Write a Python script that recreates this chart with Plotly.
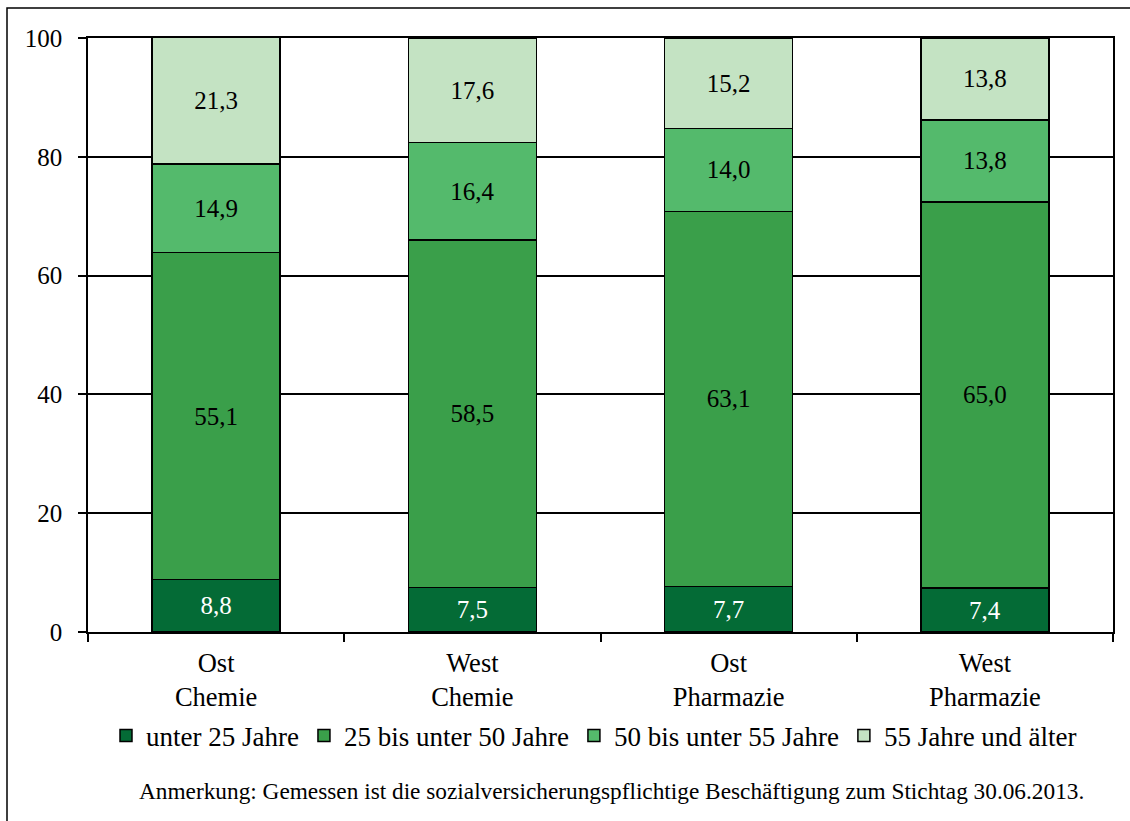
import plotly.graph_objects as go

categories = ["Ost<br>Chemie", "West<br>Chemie", "Ost<br>Pharmazie", "West<br>Pharmazie"]
u25 = [8.8, 7.5, 7.7, 7.4]
a25_50 = [55.1, 58.5, 63.1, 65.0]
a50_55 = [14.9, 16.4, 14.0, 13.8]
a55 = [21.3, 17.6, 15.2, 13.8]

series = [
    ("unter 25 Jahre", u25, "#046B36", "white"),
    ("25 bis unter 50 Jahre", a25_50, "#3A9F4A", "black"),
    ("50 bis unter 55 Jahre", a50_55, "#54BA6C", "black"),
    ("55 Jahre und älter", a55, "#C4E3C3", "black"),
]

font = "Liberation Serif"

fig = go.Figure()
for name, vals, col, tcol in series:
    fig.add_trace(go.Bar(
        x=categories, y=vals, name=name,
        marker=dict(color=col, line=dict(color="black", width=1.5)),
        text=vals, texttemplate="%{y:.1f}", textposition="inside",
        insidetextanchor="middle", textangle=0,
        textfont=dict(color=tcol, size=25, family=font),
        width=0.5,
    ))

W, H = 1130, 821
L, R, T, B = 88, 17, 38, 189
pw, ph = W - L - R, H - T - B

def px(x):
    return (x - L) / pw

def py(y):
    return (H - B - y) / ph

fig.update_layout(
    barmode="stack",
    width=W, height=H,
    margin=dict(l=L, r=R, t=T, b=B),
    separators=", ",
    plot_bgcolor="white", paper_bgcolor="white",
    font=dict(family=font, size=25, color="black"),
    showlegend=True,
    legend=dict(orientation="h", x=px(594), xanchor="center", y=py(736), yanchor="middle",
                font=dict(size=27, family=font), traceorder="normal", itemwidth=30),
    xaxis=dict(showline=True, linecolor="black", linewidth=1.5, mirror=True,
               ticks="outside", ticklen=8, tickcolor="black", tickwidth=1.5,
               tickson="boundaries", showgrid=False, ticklabelstandoff=6,
               tickfont=dict(family=font, size=26.5)),
    yaxis=dict(range=[0, 100], tickvals=[0, 20, 40, 60, 80, 100],
               showline=True, linecolor="black", linewidth=1.5, mirror=True,
               ticks="outside", ticklen=8, tickcolor="black", tickwidth=1.5,
               showgrid=True, gridcolor="black", gridwidth=1.5,
               zeroline=False, ticklabelstandoff=11,
               tickfont=dict(family=font, size=25)),
    annotations=[dict(
        text="Anmerkung: Gemessen ist die sozialversicherungspflichtige Beschäftigung zum Stichtag 30.06.2013.",
        xref="paper", yref="paper", x=px(611), y=py(791), xanchor="center", yanchor="middle",
        showarrow=False, font=dict(size=23.3, family=font))],
    shapes=[dict(type="rect", xref="paper", yref="paper",
                 x0=px(7), x1=px(1140), y0=py(830), y1=py(8),
                 line=dict(color="black", width=1.5))],
)

fig.write_html("out.html", config={"displayModeBar": False},
               post_script="document.body.style.margin='0';")
